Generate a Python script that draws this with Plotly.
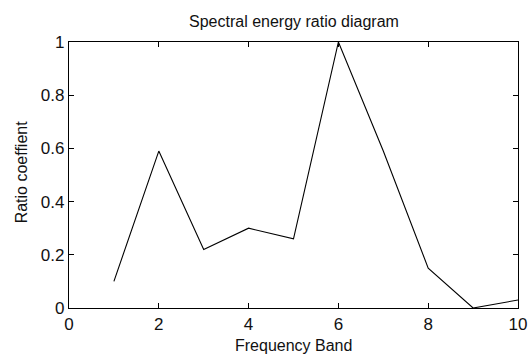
import plotly.graph_objects as go

bands = [1, 2, 3, 4, 5, 6, 7, 8, 9, 10]
ratio = [0.10, 0.59, 0.22, 0.30, 0.26, 1.00, 0.59, 0.15, 0.00, 0.03]
x_ticks = [0, 2, 4, 6, 8, 10]
y_ticks = [0, 0.2, 0.4, 0.6, 0.8, 1]
y_tick_labels = ["0", "0.2", "0.4", "0.6", "0.8", "1"]

FONT = "Liberation Sans, Arial, sans-serif"

fig = go.Figure()
fig.add_trace(go.Scatter(x=bands, y=ratio, mode="lines",
                         line=dict(color="black", width=1.1), showlegend=False,
                         cliponaxis=False))

axis_common = dict(showline=True, linecolor="black", linewidth=1.3, mirror="ticks",
                   ticks="inside", ticklen=5, tickcolor="black", tickwidth=1,
                   showgrid=False, zeroline=False, ticklabeloverflow="allow",
                   automargin=False,
                   tickfont=dict(family=FONT, size=17, color="#111"))

fig.update_xaxes(range=[0, 10], tickvals=x_ticks, **axis_common)
fig.update_yaxes(range=[0, 1], tickvals=y_ticks, ticktext=y_tick_labels, **axis_common)

fig.update_layout(
    width=528, height=354, autosize=False,
    margin=dict(l=69, r=10, t=42, b=46, autoexpand=False),
    paper_bgcolor="white", plot_bgcolor="white",
    annotations=[
        dict(text="Spectral energy ratio diagram", xref="paper", yref="paper",
             x=0.5, y=1 + 20 / 266, xanchor="center", yanchor="middle",
             showarrow=False, font=dict(family=FONT, size=16, color="#111")),
        dict(text="Frequency Band", xref="paper", yref="paper",
             x=0.5, y=-37 / 266, xanchor="center", yanchor="middle",
             showarrow=False, font=dict(family=FONT, size=16, color="#111")),
        dict(text="Ratio coeffient", xref="paper", yref="paper",
             x=-48 / 449, y=0.51, xanchor="center", yanchor="middle", textangle=-90,
             showarrow=False, font=dict(family=FONT, size=16, color="#111")),
    ],
)

fig.write_html("out.html", config={"displayModeBar": False},
               post_script="document.body.style.margin='0';document.body.style.overflow='hidden';")
